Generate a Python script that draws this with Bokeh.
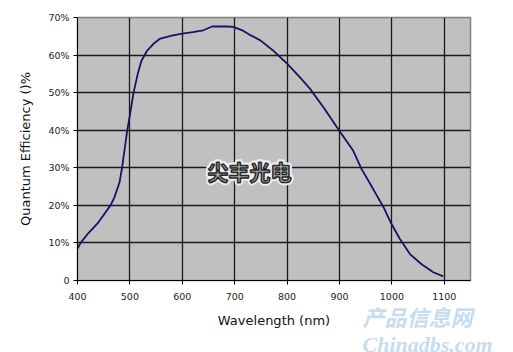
from bokeh.plotting import figure
from bokeh.models import Range1d, FixedTicker, Label, Title, ColumnDataSource
from bokeh.embed import file_html
from bokeh.resources import INLINE

wavelength = [400, 406, 420, 440, 463, 470, 480, 485, 490, 495, 500, 507, 515, 522,
              533, 545, 558, 580, 600, 620, 640, 657, 670, 685, 697, 716, 730, 749,
              775, 800, 825, 844, 850, 870, 899, 926, 942, 964, 984, 999, 1015,
              1034, 1056, 1079, 1098]
efficiency = [8.5, 10.0, 12.5, 15.5, 20.0, 22.0, 26.0, 30.0, 35.0, 40.0, 44.0, 50.0,
              55.0, 58.5, 61.2, 63.0, 64.4, 65.2, 65.7, 66.1, 66.6, 67.6, 67.6, 67.6,
              67.5, 66.5, 65.3, 63.9, 61.0, 57.7, 54.0, 51.0, 49.8, 46.0, 40.0, 34.6,
              29.7, 24.4, 19.5, 15.1, 11.1, 7.1, 4.4, 2.2, 1.1]
x_ticks = [400, 500, 600, 700, 800, 900, 1000, 1100]
y_ticks = [0, 10, 20, 30, 40, 50, 60, 70]
y_tick_labels = {0: "0", 10: "10%", 20: "20%", 30: "30%", 40: "40%", 50: "50%", 60: "60%", 70: "70%"}

src = ColumnDataSource(dict(x=wavelength, y=efficiency))

p = figure(width=513, height=352, output_backend="svg", toolbar_location=None,
           x_range=Range1d(400, 1150), y_range=Range1d(0, 70),
           min_border_left=77, min_border_right=43, min_border_top=17, min_border_bottom=72)
p.background_fill_color = "#C0C0C0"
p.border_fill_color = "white"
p.outline_line_color = "#808080"
p.outline_line_width = 1.5

for ax in (p.xaxis[0], p.yaxis[0]):
    ax.major_label_text_font = "DejaVu Sans"
    ax.major_label_text_font_size = "9.5px"
    ax.major_label_text_color = "#222222"
    ax.axis_line_color = "black"
    ax.major_tick_line_color = "black"
    ax.major_tick_out = 4
    ax.major_tick_in = 0
    ax.minor_tick_line_color = None
    ax.axis_label_text_font = "DejaVu Sans"
    ax.axis_label_text_font_style = "normal"
    ax.axis_label_text_font_size = "13px"
    ax.axis_label_text_color = "#111111"

p.xaxis.ticker = FixedTicker(ticks=x_ticks)
p.yaxis.ticker = FixedTicker(ticks=y_ticks)
p.yaxis.major_label_overrides = y_tick_labels
p.xaxis.axis_label = "Wavelength (nm)"
p.yaxis.axis_label = "Quantum Efficiency ()%"
p.xaxis.major_label_standoff = 8
p.yaxis.major_label_standoff = 4
p.xaxis.axis_label_standoff = 10
p.yaxis.axis_label_standoff = 12

p.xgrid.ticker = FixedTicker(ticks=x_ticks)
p.ygrid.ticker = FixedTicker(ticks=y_ticks)
p.xgrid.grid_line_color = "#1a1a1a"
p.ygrid.grid_line_color = "#1a1a1a"
p.xgrid.grid_line_width = 1.3
p.ygrid.grid_line_width = 1.3

p.line("x", "y", source=src, line_color="#141466", line_width=1.8)

# centre watermark: white halo copies, then outlined grey text
for dx, dy in [(-2, 0), (2, 0), (0, -2), (0, 2), (-1.5, -1.5), (1.5, 1.5), (-1.5, 1.5), (1.5, -1.5)]:
    p.add_layout(Label(x=130, y=110, x_units="screen", y_units="screen", text="尖丰光电",
                       x_offset=dx, y_offset=dy,
                       text_font="Noto Sans CJK SC", text_font_style="bold", text_font_size="21px",
                       text_color="#eeeeee", text_outline_color="#eeeeee",
                       text_baseline="middle"))
p.add_layout(Label(x=130, y=110, x_units="screen", y_units="screen", text="尖丰光电",
                   text_font="Noto Sans CJK SC", text_font_style="bold", text_font_size="21px",
                   text_color="#a8a8a8", text_outline_color="#2a2a2a",
                   text_baseline="middle"))

# bottom-right site watermark: a two-line title in the lower panel (not clipped to the frame)
try:
    wm = Title(text="产品信息网\nChinadbs.com", align="left", offset=285,
               vertical_align="top", standoff=-50,
               text_font='"Liberation Serif", "Noto Sans CJK SC"', text_font_style="bold italic",
               text_font_size="22px", text_line_height=1.05, text_color="#c8dcef")
    p.add_layout(wm, "below")
except Exception:
    pass

open("out.html", "w").write(file_html(p, INLINE))
